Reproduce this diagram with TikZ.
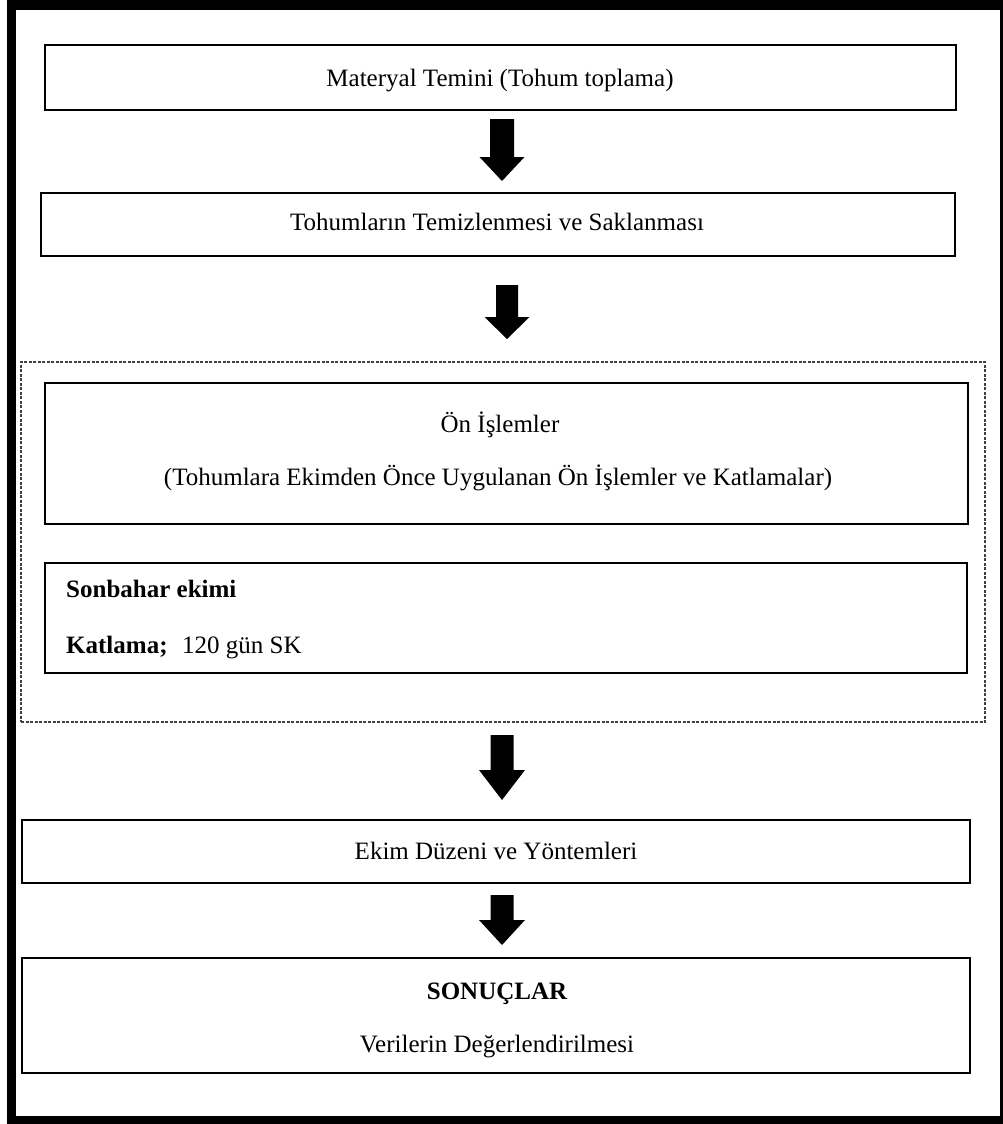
\documentclass[tikz,border=0pt]{standalone}
\usepackage{fontspec}
\setmainfont{Liberation Serif}
\begin{document}
\begin{tikzpicture}[x=1pt,y=-1pt,
  box/.style={draw=black,line width=2pt,rectangle,inner sep=0pt},
  grp/.style={draw=black!75,line width=1.2pt,dash pattern=on 3pt off 1.5pt,rectangle,inner sep=0pt},
  txt/.style={font=\fontsize{25}{30}\selectfont,inner sep=0pt,anchor=base},
  ltxt/.style={font=\fontsize{25}{30}\selectfont,inner sep=0pt,anchor=base west},
  frame/.style={fill=black}]
\useasboundingbox (0,0) rectangle (1003,1124);
% outer frame
\fill[frame] (7,0) rectangle (1003,10);
\fill[frame] (7,0) rectangle (16,1124);
\fill[frame] (7,1116) rectangle (1003,1124);
\fill[frame] (1000,0) rectangle (1003,1124);
% boxes
\node[box,minimum width=911pt,minimum height=65pt] (b1) at (500.5,77.5) {};
\node[box,minimum width=914pt,minimum height=63pt] (b2) at (498,224.5) {};
\node[grp,minimum width=964pt,minimum height=360pt] (g) at (503,542) {};
\node[box,minimum width=923pt,minimum height=141pt] (b3) at (506.5,453.5) {};
\node[box,minimum width=922pt,minimum height=110pt] (b4) at (506,618) {};
\node[box,minimum width=948pt,minimum height=63pt] (b5) at (496,851.5) {};
\node[box,minimum width=948pt,minimum height=115pt] (b6) at (496,1015.5) {};
% texts
\node[txt] (t1) at (500,86) {Materyal Temini (Tohum toplama)};
\node[txt] (t2) at (497,230) {Tohumların Temizlenmesi ve Saklanması};
\node[txt] (t3a) at (500,432) {Ön İşlemler};
\node[txt] (t3b) at (498,485) {(Tohumlara Ekimden Önce Uygulanan Ön İşlemler ve Katlamalar)};
\node[ltxt] (t4a) at (66,597) {\bfseries Sonbahar ekimi};
\node[ltxt] (t4b) at (66,653) {\bfseries Katlama;};
\node[ltxt] (t4c) at (182,653) {120 gün SK};
\node[txt] (t5) at (496,859) {Ekim Düzeni ve Yöntemleri};
\node[txt] (t6a) at (497,999) {\bfseries SONUÇLAR};
\node[txt] (t6b) at (497,1052) {Verilerin Değerlendirilmesi};
% block arrows
\newcommand\blkarrow[7]{%
  \fill[black] (#1-#5,#2) -- (#1+#5,#2) -- (#1+#5,#3) -- (#1+#6,#3) -- (#1,#4) -- (#1-#6,#3) -- (#1-#5,#3) -- cycle;}
\blkarrow{502}{119}{157}{181}{12}{22.5}{}
\blkarrow{507}{285}{317}{339}{11}{22.5}{}
\blkarrow{502}{735}{770}{800}{11.5}{23}{}
\blkarrow{502}{895}{920}{945}{11.5}{23}{}
\end{tikzpicture}
\end{document}
